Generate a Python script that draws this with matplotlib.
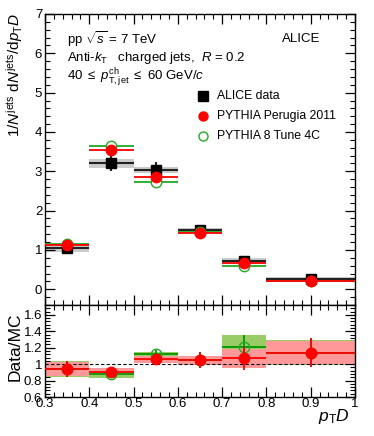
import numpy as np
import matplotlib as mpl
mpl.use("Agg")
from matplotlib import pyplot as plt
from matplotlib.ticker import MultipleLocator, FuncFormatter

# Data
# ------------------------------------------------
bin_lo = [0.3, 0.4, 0.5, 0.6, 0.7, 0.8]
bin_hi = [0.4, 0.5, 0.6, 0.7, 0.8, 1.0]
x_mid = [0.35, 0.45, 0.55, 0.65, 0.75, 0.9]

alice = [1.05, 3.20, 3.03, 1.50, 0.72, 0.25]
alice_stat = [0.05, 0.20, 0.20, 0.06, 0.04, 0.02]
alice_sys = [0.10, 0.12, 0.08, 0.06, 0.08, 0.05]

perugia = [1.12, 3.53, 2.86, 1.43, 0.68, 0.22]
tune4c = [1.15, 3.65, 2.74, 1.45, 0.60, 0.22]

ratio_p = [0.94, 0.91, 1.06, 1.05, 1.07, 1.14]
ratio_p_err = [0.10, 0.03, 0.06, 0.10, 0.14, 0.18]
ratio_p_sys = [0.09, 0.045, 0.04, 0.055, 0.115, 0.14]

ratio_4c = [0.94, 0.875, 1.12, 1.05, 1.21, 1.14]
ratio_4c_err = [0.10, 0.03, 0.05, 0.10, 0.15, 0.18]
ratio_4c_sys = [0.095, 0.045, 0.03, 0.055, 0.14, 0.15]
# ------------------------------------------------

plt.rcParams['font.family'] = ['Liberation Sans', 'DejaVu Sans']
plt.rcParams['mathtext.fontset'] = 'custom'
plt.rcParams['mathtext.rm'] = 'Liberation Sans'
plt.rcParams['mathtext.it'] = 'Liberation Sans:italic'

W, H = 374, 436
fig = plt.figure(figsize=(W / 100, H / 100), dpi=100)

def frac(x0, y0, x1, y1):
    return [x0 / W, 1 - y1 / H, (x1 - x0) / W, (y1 - y0) / H]

ax = fig.add_axes(frac(45, 14, 355, 305))
axr = fig.add_axes(frac(45, 305, 355, 397))

red = '#ff0000'
green = '#22aa22'
dgreen = '#009900'
width = np.array(bin_hi) - np.array(bin_lo)

# top panel
ax.bar(bin_lo, 2 * np.array(alice_sys), width=width, bottom=np.array(alice) - np.array(alice_sys),
       align='edge', color='#cccccc', edgecolor='none', zorder=1)
ax.hlines(alice, bin_lo, bin_hi, color='#222222', lw=1.5, zorder=2)
ax.errorbar(x_mid, alice, yerr=alice_stat, fmt='none', ecolor='#222222', lw=1.5, zorder=2)
ax.plot(x_mid, alice, 's', color='black', ms=7, zorder=3)

ax.hlines(tune4c, bin_lo, bin_hi, color=green, lw=1.3, zorder=4)
ax.plot(x_mid, tune4c, 'o', mfc='white', mec=green, mew=1, ms=7.5, zorder=4)
ax.hlines(perugia, bin_lo, bin_hi, color=red, lw=1.3, zorder=5)
ax.plot(x_mid, perugia, 'o', color=red, ms=7.5, zorder=5)

ax.set_xlim(0.3, 1.0)
ax.set_ylim(-0.4, 7)

# ratio panel
axr.bar(bin_lo, 2 * np.array(ratio_4c_sys), width=width, bottom=np.array(ratio_4c) - np.array(ratio_4c_sys),
        align='edge', color='#99cc66', edgecolor='none', zorder=1)
axr.bar(bin_lo, 2 * np.array(ratio_p_sys), width=width, bottom=np.array(ratio_p) - np.array(ratio_p_sys),
        align='edge', color='#ff9999', edgecolor='none', zorder=2)
axr.axhline(1, color='black', ls=(0, (3, 2)), lw=0.8, zorder=3)

axr.hlines(ratio_4c, bin_lo, bin_hi, color=dgreen, lw=1.3, zorder=4)
axr.errorbar(x_mid, ratio_4c, yerr=ratio_4c_err, fmt='none', ecolor=dgreen, lw=1.3, zorder=4)
axr.plot(x_mid, ratio_4c, 'o', mfc='none', mec=green, mew=1, ms=7.5, zorder=4)
axr.hlines(ratio_p, bin_lo, bin_hi, color=red, lw=1.3, zorder=5)
axr.errorbar(x_mid, ratio_p, yerr=ratio_p_err, fmt='none', ecolor=red, lw=1.3, zorder=5)
axr.plot(x_mid, ratio_p, 'o', color=red, ms=7.5, zorder=5)

axr.set_xlim(0.3, 1.0)
axr.set_ylim(0.6, 1.72)

# ticks, ROOT style
for a in (ax, axr):
    a.xaxis.set_major_locator(MultipleLocator(0.1))
    a.xaxis.set_minor_locator(MultipleLocator(0.02))
    a.tick_params(which='both', direction='in', top=True, right=True, labelsize=9.5, pad=2)
    a.tick_params(which='major', length=7, width=0.9)
    a.tick_params(which='minor', length=3.5, width=0.8)
    for s in a.spines.values():
        s.set_linewidth(1.0)

ax.yaxis.set_major_locator(MultipleLocator(1))
ax.yaxis.set_minor_locator(MultipleLocator(0.2))
ax.tick_params(labelbottom=False)

axr.yaxis.set_major_locator(MultipleLocator(0.2))
axr.yaxis.set_minor_locator(MultipleLocator(0.04))
nice = FuncFormatter(lambda v, p: ('%.1f' % v).rstrip('0').rstrip('.'))
axr.xaxis.set_major_formatter(nice)
axr.yaxis.set_major_formatter(nice)
axr.tick_params(axis='x', pad=1)

# labels
fig.text(15 / W, 1 - 13 / H, r'1/$N^{\rm jets}$ d$N^{\rm jets}$/d$p_{\rm T}D$', rotation=90,
         ha='center', va='top', fontsize=11)
fig.text(15 / W, 1 - 347 / H, 'Data/MC', rotation=90, ha='center', va='center', fontsize=12.5)
fig.text(350 / W, 1 - 416 / H, r'$p_{\rm T}D$', ha='right', va='center', fontsize=12.5)

fig.text(67 / W, 1 - 39 / H, r'pp $\sqrt{s}$ = 7 TeV', ha='left', va='center', fontsize=9.5)
fig.text(67 / W, 1 - 58 / H, r'Anti-$k_{\rm T}$   charged jets,  $R$ = 0.2', ha='left', va='center', fontsize=9.5)
fig.text(67 / W, 1 - 77 / H, r'40 $\leq$ $p_{\rm T,jet}^{\rm ch}$ $\leq$ 60 GeV/$c$', ha='left', va='center', fontsize=9.5)
fig.text(320 / W, 1 - 39 / H, 'ALICE', ha='right', va='center', fontsize=9.5)

# legend, drawn by hand
leg_y = [96, 116, 136]
fig.lines.append(plt.Line2D([203 / W], [1 - leg_y[0] / H], marker='s', color='black', ms=6.5, transform=fig.transFigure))
fig.lines.append(plt.Line2D([203 / W], [1 - leg_y[1] / H], marker='o', color=red, ms=6.5, transform=fig.transFigure))
fig.lines.append(plt.Line2D([203 / W], [1 - leg_y[2] / H], marker='o', mfc='none', mec=green, mew=1, ms=6.5,
                            transform=fig.transFigure))
for y, t in zip(leg_y, ['ALICE data', 'PYTHIA Perugia 2011', 'PYTHIA 8 Tune 4C']):
    fig.text(217 / W, 1 - y / H, t, ha='left', va='center', fontsize=8.8)

plt.savefig('out.png', dpi=100)
